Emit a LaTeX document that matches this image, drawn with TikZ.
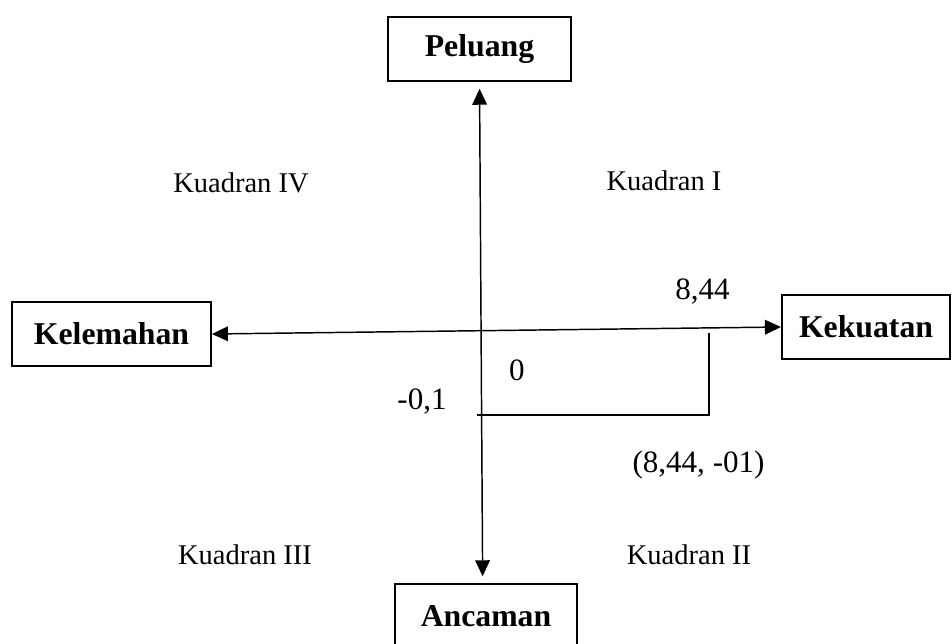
\documentclass[tikz,border=0pt]{standalone}
\usepackage{fontspec}
\setmainfont{Liberation Serif}
\usetikzlibrary{arrows.meta}
\begin{document}
\begin{tikzpicture}[x=0.75pt,y=-0.75pt,
  boxnode/.style={draw,line width=1.6pt,inner sep=0pt,minimum height=48pt,font=\fontsize{23.8}{28}\selectfont\bfseries},
  quad/.style={inner sep=0pt,font=\fontsize{21.4}{25}\selectfont},
  num/.style={inner sep=0pt,font=\fontsize{23.3}{27}\selectfont},
  axis/.style={line width=1.1pt,{Triangle[length=12pt,width=11pt]}-{Triangle[length=12pt,width=11pt]}},
  thin/.style={line width=0.8pt}]
\useasboundingbox (0,0) rectangle (952,643);
\node[boxnode,minimum width=137pt] (pel) at (479.5,49) {Peluang};
\node[boxnode,minimum width=149pt] (kel) at (111.5,334) {Kelemahan};
\node[boxnode,minimum width=126pt] (kek) at (866,327) {Kekuatan};
\node[boxnode,minimum width=137pt] (anc) at (486,616) {Ancaman};
\draw[axis] (kel.east) -- (kek.west);
\draw[axis,shorten <=5pt,shorten >=5pt] (pel.south) -- ([xshift=-2.5pt]anc.north);
\coordinate (r1) at (709,333);
\coordinate (r2) at (709,415);
\coordinate (r3) at (477,415);
\draw[thin] (r1) -- (r2) -- (r3);
\node[quad] (q4) at (241,183) {Kuadran IV};
\node[quad] (q1) at (664,181) {Kuadran I};
\node[quad] (q3) at (245,555) {Kuadran III};
\node[quad] (q2) at (689,555) {Kuadran II};
\node[num] (n844) at (702.5,292) {8,44};
\node[num] (n0) at (517,370) {0};
\node[num] (nm01) at (422,402) {-0,1};
\node[num] (pt) at (698.5,465) {(8,44, -01)};
\end{tikzpicture}
\end{document}
